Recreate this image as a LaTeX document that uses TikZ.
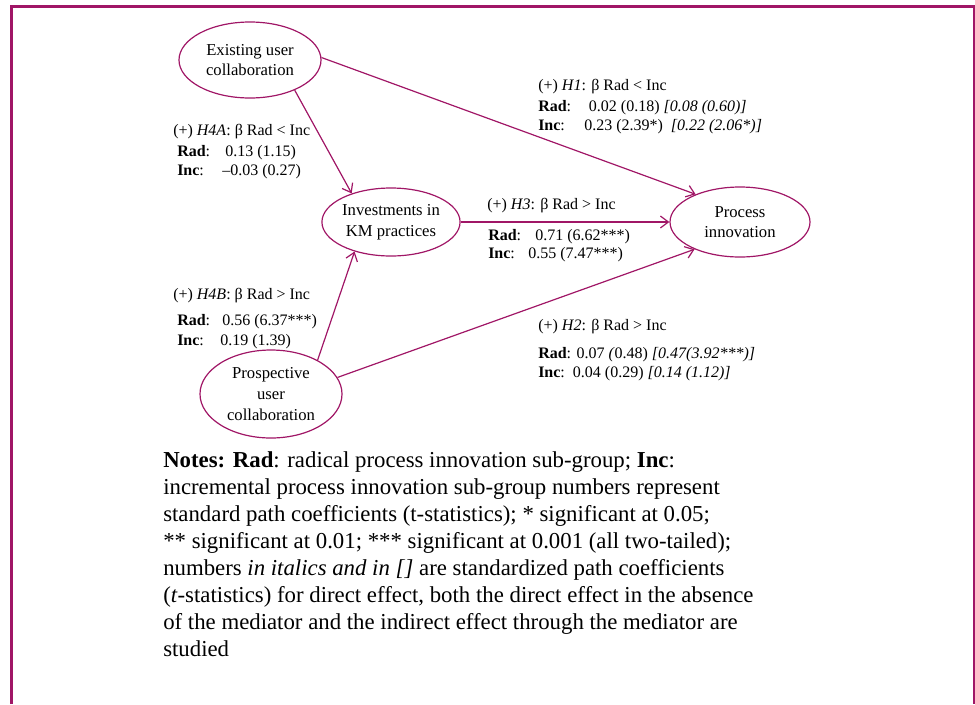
\documentclass[tikz,border=0pt]{standalone}
\usepackage{fontspec}
\setmainfont{Liberation Serif}
\usetikzlibrary{arrows.meta}
\usetikzlibrary{shapes}

\definecolor{plum}{RGB}{160,22,102}

\tikzset{
  construct/.style={ellipse, draw=plum, line width=0.9pt, inner sep=0pt, align=center,
    font=\fontsize{12.5}{15.5}\selectfont},
  path/.style={draw=plum, line width=0.9pt, -{Straight Barb[length=6pt,width=9pt]}},
  coef/.style={anchor=west, inner sep=0.75pt, font=\fontsize{12}{14.5}\selectfont},
}

\begin{document}
\begin{tikzpicture}[x=0.75pt,y=0.75pt,yscale=-1,xscale=1]
\useasboundingbox (0,0) rectangle (975,704);

% frame
\draw [plum, line width=2.25pt] (11,704) -- (11,6) -- (974,6) -- (974,704) ;

% constructs
\node [construct, minimum width=106.5pt, minimum height=57pt] (exist) at (250,60) {Existing user\\collaboration};
\node [construct, minimum width=94.5pt, minimum height=51pt] (invest) at (391,222) {Investments in\\KM practices};
\node [construct, minimum width=105pt, minimum height=52.5pt] (proc) at (740,222) {Process\\innovation};
\node [construct, minimum width=106.5pt, minimum height=66pt] (prosp) at (271,394) {Prospective\\user\\collaboration};

% paths
\draw [path] (exist.2) -- (proc.148) ;
\draw [path] (exist.-34) -- (invest.144) ;
\draw [path] (invest.east) -- (proc.west) ;
\draw [path] (prosp.36) -- (invest.219) ;
\draw [path] (prosp.14) -- (proc.211) ;

% H1
\node [coef] (h1) at (537,87) {(+) \textit{H1}: β Rad < Inc};
\node [coef] (h1rad) at (537,108) {\makebox[38pt][l]{\textbf{Rad}:}0.02 (0.18) \textit{[0.08 (0.60)]}};
\node [coef] (h1inc) at (537,127) {\makebox[34.5pt][l]{\textbf{Inc}:}0.23 (2.39*)\ \ \textit{[0.22 (2.06*)]}};
% H4A
\node [coef] (h4a) at (172,132) {(+) \textit{H4A}:\ β Rad < Inc};
\node [coef] (h4arad) at (176,153) {\makebox[36pt][l]{\textbf{Rad}:}0.13 (1.15)};
\node [coef] (h4ainc) at (176,172) {\makebox[33.75pt][l]{\textbf{Inc}:}–0.03 (0.27)};
% H3
\node [coef] (h3) at (486,206) {(+) \textit{H3}: β Rad > Inc};
\node [coef] (h3rad) at (487,237) {\makebox[35.25pt][l]{\textbf{Rad}:}0.71 (6.62***)};
\node [coef] (h3inc) at (487,255) {\makebox[30pt][l]{\textbf{Inc}:}0.55 (7.47***)};
% H4B
\node [coef] (h4b) at (172,296) {(+) \textit{H4B}: β Rad > Inc};
\node [coef] (h4brad) at (176,322) {\makebox[33.75pt][l]{\textbf{Rad}:}0.56 (6.37***)};
\node [coef] (h4binc) at (176,342) {\makebox[32.25pt][l]{\textbf{Inc}:}0.19 (1.39)};
% H2
\node [coef] (h2) at (537,327) {(+) \textit{H2}: β Rad > Inc};
\node [coef] (h2rad) at (537,355) {\textbf{Rad}: 0.07 \textit{(}0.48) \textit{[0.47(3.92***)]}};
\node [coef] (h2inc) at (537,374) {\textbf{Inc}:\ \ 0.04 (0.29) \textit{[0.14 (1.12)]}};

% notes
\node [anchor=north west, inner sep=0pt, align=left, font=\fontsize{17.1}{20.25}\selectfont] (notes) at (163,451)
  {\textbf{Notes: Rad}: radical process innovation sub-group; \textbf{Inc}:\\
   incremental process innovation sub-group numbers represent\\
   standard path coefficients (t-statistics); * significant at 0.05;\\
   ** significant at 0.01; *** significant at 0.001 (all two-tailed);\\
   numbers \textit{in italics and in []} are standardized path coefficients\\
   (\textit{t}-statistics) for direct effect, both the direct effect in the absence\\
   of the mediator and the indirect effect through the mediator are\\
   studied};

\end{tikzpicture}
\end{document}
